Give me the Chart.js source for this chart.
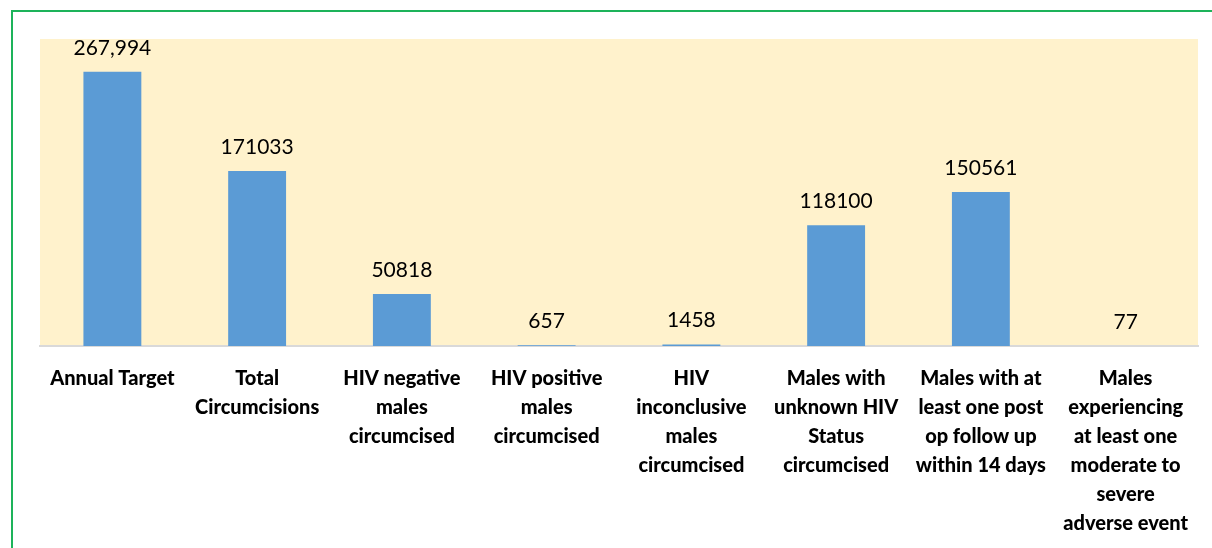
<!DOCTYPE html>
<html>
<head>
<meta charset="utf-8">
<script src="https://cdn.jsdelivr.net/npm/chart.js@4"></script>
<style>
  html, body { margin:0; padding:0; background:#fff; overflow:hidden; }
  #frame { position:absolute; left:11px; top:10px; width:1220px; height:600px; border:2px solid #1db35a; box-sizing:border-box; }
  #wrap { position:absolute; left:0; top:0; width:1212px; height:548px; }
</style>
</head>
<body>
<div id="frame"></div>
<div id="wrap"><canvas id="c"></canvas></div>
<script>
const CATEGORIES = [
  ["Annual Target"],
  ["Total", "Circumcisions"],
  ["HIV negative", "males", "circumcised"],
  ["HIV positive", "males", "circumcised"],
  ["HIV", "inconclusive", "males", "circumcised"],
  ["Males with", "unknown HIV", "Status", "circumcised"],
  ["Males with at", "least one post", "op follow up", "within 14 days"],
  ["Males", "experiencing", "at least one", "moderate to", "severe", "adverse event"]
];
const VALUES = [267994, 171033, 50818, 657, 1458, 118100, 150561, 77];
const VALUE_LABELS = ["267,994", "171033", "50818", "657", "1458", "118100", "150561", "77"];
const Y_MAX = 300000;

const areaBg = {
  id: "areaBg",
  beforeDraw(chart){
    const {ctx, chartArea:a} = chart;
    ctx.save();
    ctx.fillStyle = "#fff2cc";
    ctx.fillRect(a.left, a.top, a.right-a.left, a.bottom-a.top);
    ctx.restore();
  }
};

const valueLabels = {
  id: "valueLabels",
  afterDatasetsDraw(chart){
    const ctx = chart.ctx;
    ctx.save();
    ctx.font = "21px Lato, 'Open Sans', sans-serif";
    ctx.fillStyle = "#000";
    ctx.textAlign = "center";
    ctx.textBaseline = "middle";
    chart.getDatasetMeta(0).data.forEach((bar,i)=>{
      ctx.fillText(VALUE_LABELS[i], bar.x, bar.y - 24);
    });
    ctx.restore();
  }
};

new Chart(document.getElementById("c"), {
  type: "bar",
  data: {
    labels: CATEGORIES,
    datasets: [{
      data: VALUES,
      backgroundColor: "#5b9bd5",
      borderWidth: 0,
      barPercentage: 0.4,
      categoryPercentage: 1
    }]
  },
  options: {
    responsive: true,
    maintainAspectRatio: false,
    animation: false,
    layout: { padding: { left: 40, right: 14, top: 39, bottom: 0 } },
    plugins: { legend:{display:false}, tooltip:{enabled:false} },
    scales: {
      x: {
        grid: { display:false },
        border: { display:true, color:"#d9d9d9", width:2 },
        ticks: {
          color:"#000",
          font: { family:"Lato, 'Open Sans', sans-serif", size:20, weight:900, lineHeight:1.45 },
          maxRotation:0, minRotation:0, autoSkip:false, padding:10
        },
        afterFit: s => { s.height = 202; }
      },
      y: { display:false, min:0, max:Y_MAX }
    }
  },
  plugins: [areaBg, valueLabels]
});
</script>
</body>
</html>
